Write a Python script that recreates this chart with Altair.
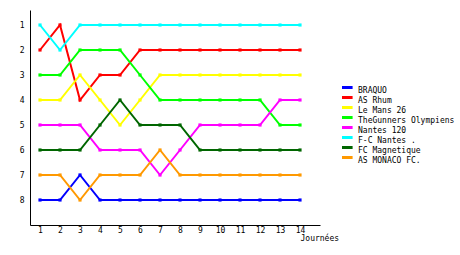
import altair as alt
import pandas as pd

journees = list(range(1, 15))
teams = ["BRAQUO", "AS Rhum", "Le Mans 26", "TheGunners Olympiens",
         "Nantes 120", "F-C Nantes .", "FC Magnetique", "AS MONACO FC."]
colors = ["#0000ff", "#ff0000", "#ffff00", "#00ff00",
          "#ff00ff", "#00ffff", "#006600", "#ff9900"]

braquo = [8, 8, 7, 8, 8, 8, 8, 8, 8, 8, 8, 8, 8, 8]
as_rhum = [2, 1, 4, 3, 3, 2, 2, 2, 2, 2, 2, 2, 2, 2]
le_mans = [4, 4, 3, 4, 5, 4, 3, 3, 3, 3, 3, 3, 3, 3]
gunners = [3, 3, 2, 2, 2, 3, 4, 4, 4, 4, 4, 4, 5, 5]
nantes120 = [5, 5, 5, 6, 6, 6, 7, 6, 5, 5, 5, 5, 4, 4]
fc_nantes = [1, 2, 1, 1, 1, 1, 1, 1, 1, 1, 1, 1, 1, 1]
magnetique = [6, 6, 6, 5, 4, 5, 5, 5, 6, 6, 6, 6, 6, 6]
monaco = [7, 7, 8, 7, 7, 7, 6, 7, 7, 7, 7, 7, 7, 7]

series = [braquo, as_rhum, le_mans, gunners, nantes120, fc_nantes, magnetique, monaco]
rows = []
for i, (t, vals) in enumerate(zip(teams, series)):
    for j, v in zip(journees, vals):
        rows.append({"team": t, "order": i, "journee": j, "rang": v})
df = pd.DataFrame(rows)

FONT = "DejaVu Sans Mono"

x = alt.X("journee:Q",
          scale=alt.Scale(domain=[0.5, 15], nice=False, zero=False),
          axis=alt.Axis(values=journees, title="Journées", grid=False, ticks=False,
                        labelPadding=1, labelFontSize=8, labelFont=FONT,
                        titleFont=FONT, titleFontSize=8, titleFontWeight="normal",
                        titleAlign="left", titleAnchor="start", titleX=270, titleY=9,
                        titleBaseline="top",
                        domainColor="black", labelColor="black", titleColor="black",
                        labelFlush=False))
y = alt.Y("rang:Q",
          scale=alt.Scale(domain=[0.4, 9], nice=False, zero=False, reverse=True),
          axis=alt.Axis(values=list(range(1, 9)), title=None, grid=False, ticks=False,
                        labelPadding=6, labelFontSize=8, labelFont=FONT,
                        domainColor="black", labelColor="black", labelFlush=False))
color = alt.Color("team:N",
                  scale=alt.Scale(domain=teams, range=colors),
                  sort=teams,
                  legend=alt.Legend(title=None, orient="none", legendX=312, legendY=76,
                                    symbolType="M-1.6,-1L1.6,-1", symbolSize=49,
                                    symbolStrokeWidth=3, clipHeight=10,
                                    labelFont=FONT, labelFontSize=8, labelColor="black",
                                    labelBaseline="middle", labelOffset=6, rowPadding=0,
                                    labelLimit=200))

base = alt.Chart(df)
lines = base.mark_line(strokeWidth=2, clip=False).encode(
    x=x, y=y, color=color, detail="team:N", order="journee:Q")
points = base.mark_square(size=10, opacity=1).encode(
    x=x, y=y, color=alt.Color("team:N", scale=alt.Scale(domain=teams, range=colors), legend=None))

chart = alt.layer(lines, points).properties(
    width=290, height=215,
    autosize=alt.AutoSizeParams(type="none"),
    padding={"left": 30, "top": 10, "right": 140, "bottom": 30},
    background="white",
).configure_view(stroke=None).configure_axis(domainWidth=1)

chart.save("out.html", embed_options={"renderer": "svg", "actions": False})
